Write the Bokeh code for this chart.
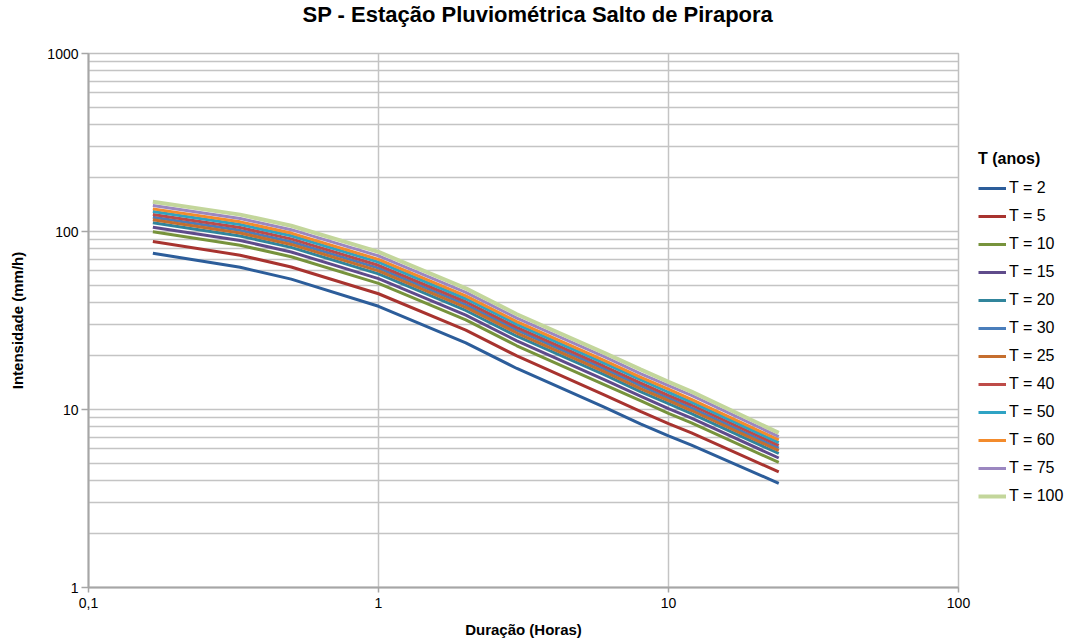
from bokeh.plotting import figure
from bokeh.models import Range1d, FixedTicker, Legend, LegendItem
from bokeh.embed import file_html
from bokeh.resources import INLINE

# Duration (hours): 10, 20, 30 min, 1, 2, 3, 6, 8, 10, 12, 24 h
duracao = [0.1667, 0.3333, 0.5, 1, 2, 3, 6, 8, 10, 12, 24]

t2 = [75.5, 63.0, 54.0, 38.0, 23.7, 17.0, 10.3, 8.3, 7.1, 6.3, 3.85]
t5 = [87.8, 73.6, 63.2, 44.7, 27.9, 20.0, 12.1, 9.76, 8.34, 7.38, 4.46]
t10 = [99.6, 83.7, 72.1, 51.1, 31.9, 22.8, 13.8, 11.2, 9.52, 8.41, 5.04]
t15 = [105.7, 89.0, 76.7, 54.4, 33.9, 24.3, 14.7, 11.9, 10.1, 8.95, 5.34]
t20 = [112.0, 94.3, 81.4, 57.8, 36.0, 25.8, 15.7, 12.6, 10.8, 9.49, 5.66]
t30 = [120.3, 101.5, 87.6, 62.3, 38.8, 27.9, 16.9, 13.6, 11.6, 10.2, 6.06]
t25 = [116.3, 98.0, 84.6, 60.1, 37.5, 26.9, 16.3, 13.1, 11.2, 9.87, 5.87]
t40 = [124.6, 105.2, 90.9, 64.6, 40.3, 28.9, 17.5, 14.1, 12.0, 10.6, 6.28]
t50 = [129.5, 109.4, 94.6, 67.3, 41.9, 30.1, 18.2, 14.7, 12.5, 11.0, 6.52]
t60 = [134.0, 113.3, 98.0, 69.7, 43.5, 31.2, 18.9, 15.2, 13.0, 11.4, 6.75]
t75 = [140.0, 118.4, 102.4, 73.0, 45.5, 32.6, 19.8, 15.9, 13.6, 12.0, 7.04]
t100 = [147.0, 124.4, 107.7, 76.8, 47.9, 34.3, 20.8, 16.8, 14.3, 12.6, 7.39]

labels = ["T = 2", "T = 5", "T = 10", "T = 15", "T = 20", "T = 30",
          "T = 25", "T = 40", "T = 50", "T = 60", "T = 75", "T = 100"]
series = [t2, t5, t10, t15, t20, t30, t25, t40, t50, t60, t75, t100]
colors = ["#2C5D9A", "#A8332F", "#77933C", "#5F4B8B", "#31859C", "#4A7EBB",
          "#C56E2E", "#BE4B48", "#2FA3C4", "#F38B2C", "#9B87C0", "#C3D69B"]

x_ticks = [0.1, 1, 10, 100]
y_ticks = [1, 10, 100, 1000]
y_minor = [m * d for d in (1, 10, 100) for m in range(2, 10)]

FONT = "Liberation Sans"

p = figure(frame_width=870, frame_height=534,
           x_axis_type="log", y_axis_type="log",
           x_range=Range1d(0.1, 100), y_range=Range1d(1, 1000),
           output_backend="svg", toolbar_location=None,
           min_border_left=88, min_border_right=110,
           min_border_top=53, min_border_bottom=53)

# two-line box (second line empty) lets the title sit near the top edge
p.title.text = "SP - Estação Pluviométrica Salto de Pirapora\n "
p.title.align = "left"
p.title.offset = 214
p.title.vertical_align = "top"
p.title.standoff = 0
p.title.text_line_height = 1.0
p.title.text_font = FONT
p.title.text_font_size = "22px"
p.title.text_font_style = "bold"
p.title.text_color = "#000000"

p.outline_line_color = "#BFBFBF"
p.outline_line_width = 1.5
p.background_fill_color = "white"
p.border_fill_color = "white"

# axes
p.xaxis.ticker = FixedTicker(ticks=x_ticks)
p.xaxis.major_label_overrides = {0.1: "0,1", 1: "1", 10: "10", 100: "100"}
p.yaxis.ticker = FixedTicker(ticks=y_ticks, minor_ticks=y_minor)
p.yaxis.major_label_overrides = {1: "1", 10: "10", 100: "100", 1000: "1000"}

for ax in (p.xaxis[0], p.yaxis[0]):
    ax.axis_line_color = "#A6A6A6"
    ax.axis_line_width = 2
    ax.major_tick_line_color = "#A6A6A6"
    ax.major_tick_line_width = 1.5
    ax.major_tick_in = 0
    ax.minor_tick_in = 0
    ax.minor_tick_out = 0
    ax.major_label_text_font = FONT
    ax.major_label_text_font_size = "14px"
    ax.major_label_text_color = "#000000"
    ax.axis_label_text_font = FONT
    ax.axis_label_text_font_size = "15px"
    ax.axis_label_text_font_style = "bold"
    ax.axis_label_text_color = "#000000"

p.xaxis.major_tick_out = 5
p.yaxis.major_tick_out = 7
p.xaxis.major_label_standoff = 5
p.yaxis.major_label_standoff = 3
p.xaxis.axis_label = "Duração (Horas)"
p.yaxis.axis_label = "Intensidade (mm/h)"
p.xaxis.axis_label_standoff = 10
p.yaxis.axis_label_standoff = 18

# grids
p.xgrid.ticker = FixedTicker(ticks=x_ticks)
p.xgrid.grid_line_color = "#C4C4C4"
p.xgrid.grid_line_width = 1.5
p.ygrid.ticker = FixedTicker(ticks=y_ticks, minor_ticks=y_minor)
p.ygrid.grid_line_color = "#C4C4C4"
p.ygrid.grid_line_width = 1.5
p.ygrid.minor_grid_line_color = "#C4C4C4"
p.ygrid.minor_grid_line_width = 1.5

items = []
for lab, ys, col in zip(labels, series, colors):
    lw = 4 if lab == "T = 100" else 3
    r = p.line(duracao, ys, line_color=col, line_width=lw)
    items.append(LegendItem(label=lab, renderers=[r]))

legend = Legend(items=items, title="T (anos)", location=(20, 81),
                orientation="vertical")
legend.title_text_font = FONT
legend.title_text_font_size = "16px"
legend.title_text_font_style = "bold"
legend.title_text_color = "#000000"
legend.title_standoff = 10
legend.label_text_font = FONT
legend.label_text_font_size = "16px"
legend.label_text_color = "#000000"
legend.glyph_width = 28
legend.glyph_height = 20
legend.label_height = 20
legend.spacing = 8
legend.label_standoff = 3
legend.padding = 0
legend.margin = 0
legend.border_line_color = None
legend.background_fill_alpha = 0
p.add_layout(legend, "right")

open("out.html", "w").write(file_html(p, INLINE))
